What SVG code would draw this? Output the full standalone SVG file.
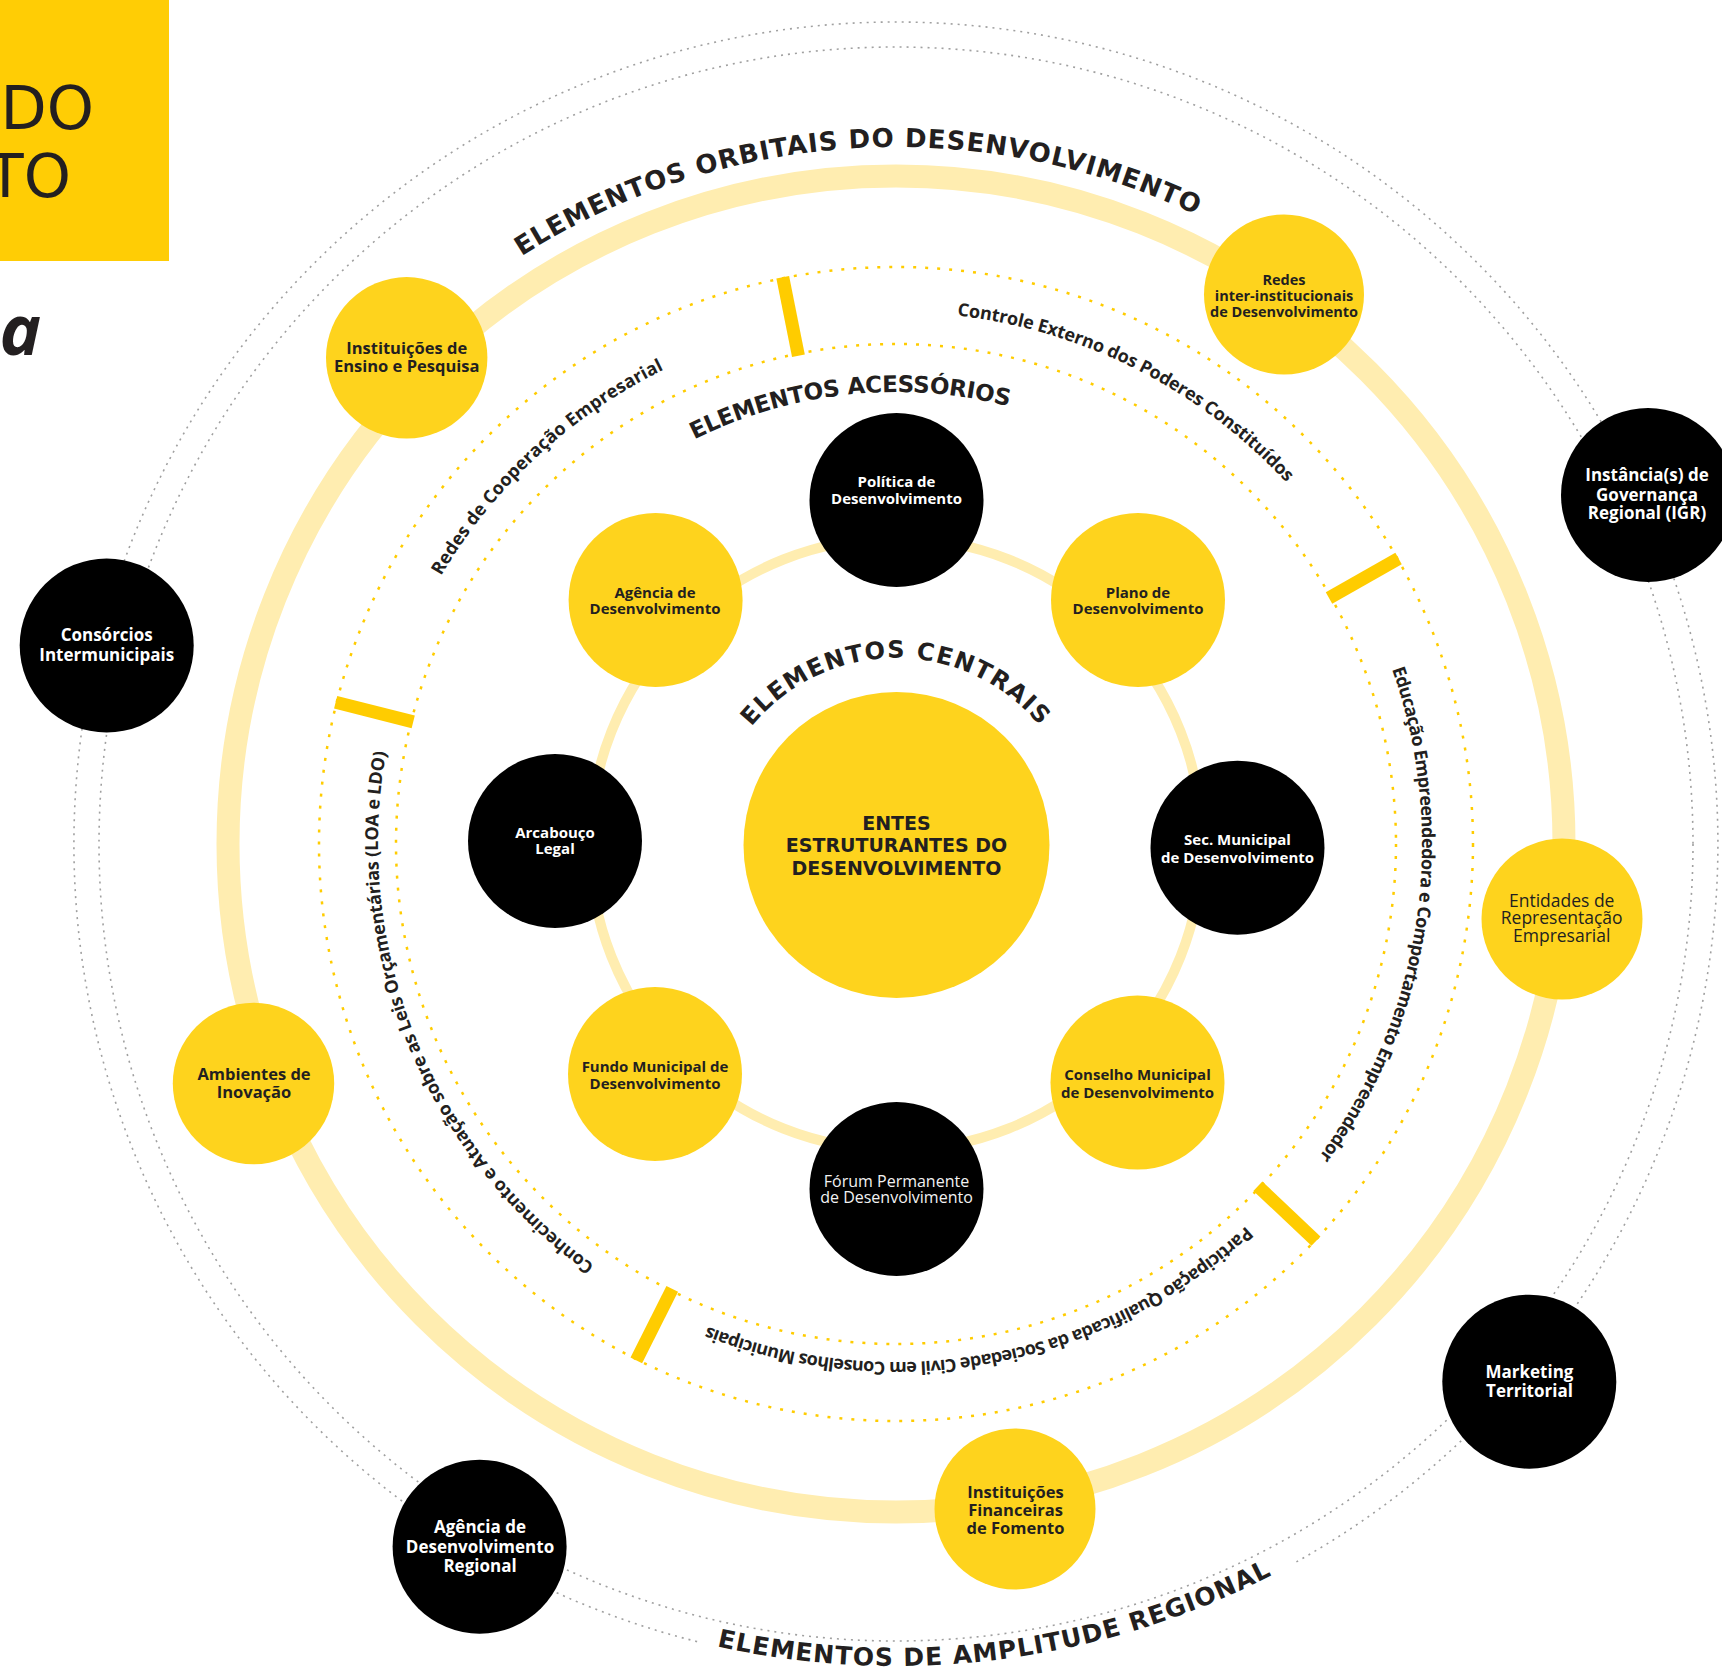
<svg xmlns="http://www.w3.org/2000/svg" width="1722" height="1671" viewBox="0 0 1722 1671">
<style>
.ny{fill:#FED31D}
.nb{fill:#000}
.t{font-family:"Open Sans","Liberation Sans",sans-serif;text-anchor:middle}
.td{fill:#231F20;font-weight:700}
.tdr{fill:#231F20;font-weight:400}
.tw{fill:#fff;font-weight:700}
.twr{fill:#f2f2f2;font-weight:400}
.hd{font-family:"DejaVu Sans",sans-serif;font-weight:700;fill:#231F20}
.arc{font-family:"Open Sans","Liberation Sans",sans-serif;font-weight:700;fill:#231F20;font-size:18px}
.band{fill:none;stroke:#FFEDB0}
.ydot{fill:none;stroke:#FFCC00;stroke-width:2.5;stroke-dasharray:3 9}
.gdot{fill:none;stroke:#A0A0A0;stroke-width:1.6;stroke-dasharray:2 5}
.bar{fill:#FFCC00}
</style>
<defs>
<path id="pOrb" d="M 521.5 256.2 A 697 697 0 0 1 1196.1 214.9"/>
<path id="pAce" d="M 694.3 439.5 A 452 452 0 0 1 1009.2 406.4"/>
<path id="pCen" d="M 751.5 726.9 A 186 186 0 0 1 1039.5 725.7"/>
<path id="pAmp" d="M 716.7 1646.2 A 822 822 0 0 0 1271.7 1575.1"/>
<path id="pRed" d="M 441.1 576.0 A 528 528 0 0 1 664.5 369.4"/>
<path id="pCon" d="M 957.1 315.5 A 532 532 0 0 1 1286.3 482.6"/>
<path id="pEdu" d="M 1392.1 669.3 A 526 526 0 0 1 1318.9 1156.9"/>
<path id="pPar" d="M 1246.0 1225.9 A 518 518 0 0 1 707.8 1326.6"/>
<path id="pCnh" d="M 594.5 1265.2 A 518 518 0 0 1 386.2 752.3"/>
</defs>
<rect x="0" y="0" width="1722" height="1671" fill="#fff"/>

<g id="title">
<rect x="0" y="0" width="169" height="261" fill="#FFCD05"/>
<text x="94" y="129" font-family="DejaVu Sans,sans-serif" font-size="60" fill="#231F20" text-anchor="end">DO</text>
<text x="71" y="197" font-family="DejaVu Sans,sans-serif" font-size="60" fill="#231F20" text-anchor="end">TO</text>
<text x="41" y="355" font-family="Open Sans,sans-serif" font-style="italic" font-weight="700" font-size="70" fill="#231F20" text-anchor="end">a</text>
</g>

<g id="connectors">
<circle class="gdot" cx="896" cy="844" r="797"/>
<path class="gdot" d="M 697.1 1641.6 A 822 822 0 1 1 1294.5 1562.9"/>
<circle class="band" cx="896" cy="844" r="668" stroke-width="23"/>
<circle class="ydot" cx="896" cy="844" r="577"/>
<circle class="ydot" cx="896" cy="844" r="500"/>
<g class="bar">
<rect x="1394" y="837.5" width="80" height="13" transform="rotate(-101.3 896 844)"/>
<rect x="1394" y="837.5" width="80" height="13" transform="rotate(-29.6 896 844)"/>
<rect x="1394" y="837.5" width="80" height="13" transform="rotate(194.2 896 844)"/>
<rect x="1394" y="837.5" width="80" height="13" transform="rotate(43.4 896 844)"/>
<rect x="1394" y="837.5" width="80" height="13" transform="rotate(116.7 896 844)"/>
</g>
<circle class="band" cx="896" cy="844" r="306" stroke-width="10"/>
</g>

<g id="central">
<circle class="ny" cx="896.5" cy="845" r="153"/>
<text class="hd" font-size="19" text-anchor="middle"><tspan x="896.5" y="829.6">ENTES</tspan><tspan x="896.5" y="851.9">ESTRUTURANTES DO</tspan><tspan x="896.5" y="874.6">DESENVOLVIMENTO</tspan></text>
</g>

<g id="n-politica">
<circle class="nb" cx="896.5" cy="500" r="87"/>
<text class="t tw" font-size="15"><tspan x="896.5" y="487.3">Política de</tspan><tspan x="896.5" y="504">Desenvolvimento</tspan></text>
</g>
<g id="n-plano">
<circle class="ny" cx="1138" cy="600" r="87"/>
<text class="t td" font-size="15"><tspan x="1138" y="597.7">Plano de</tspan><tspan x="1138" y="614.3">Desenvolvimento</tspan></text>
</g>
<g id="n-sec">
<circle class="nb" cx="1237.5" cy="847.7" r="87"/>
<text class="t tw" font-size="15"><tspan x="1237.5" y="845">Sec. Municipal</tspan><tspan x="1237.5" y="862.5">de Desenvolvimento</tspan></text>
</g>
<g id="n-conselho">
<circle class="ny" cx="1137.5" cy="1082.6" r="87"/>
<text class="t td" font-size="15"><tspan x="1137.5" y="1080">Conselho Municipal</tspan><tspan x="1137.5" y="1097.5">de Desenvolvimento</tspan></text>
</g>
<g id="n-forum">
<circle class="nb" cx="896.5" cy="1189" r="87"/>
<text class="t twr" font-size="16"><tspan x="896.5" y="1187.3">Fórum Permanente</tspan><tspan x="896.5" y="1203.3">de Desenvolvimento</tspan></text>
</g>
<g id="n-fundo">
<circle class="ny" cx="655" cy="1074" r="87"/>
<text class="t td" font-size="15"><tspan x="655" y="1071.8">Fundo Municipal de</tspan><tspan x="655" y="1088.6">Desenvolvimento</tspan></text>
</g>
<g id="n-arcabouco">
<circle class="nb" cx="555" cy="841" r="87"/>
<text class="t tw" font-size="15"><tspan x="555" y="838">Arcabouço</tspan><tspan x="555" y="854">Legal</tspan></text>
</g>
<g id="n-agencia">
<circle class="ny" cx="655.6" cy="600" r="87"/>
<text class="t td" font-size="15"><tspan x="655" y="597.7">Agência de</tspan><tspan x="655" y="614.3">Desenvolvimento</tspan></text>
</g>

<g id="n-ensino">
<circle class="ny" cx="406.7" cy="357.8" r="80.7"/>
<text class="t td" font-size="16.5"><tspan x="406.7" y="353.7">Instituições de</tspan><tspan x="406.7" y="372.1">Ensino e Pesquisa</tspan></text>
</g>
<g id="n-redes">
<circle class="ny" cx="1284" cy="294.5" r="80"/>
<text class="t td" font-size="14.5"><tspan x="1284" y="284.8">Redes</tspan><tspan x="1284" y="300.8">inter-institucionais</tspan><tspan x="1284" y="316.5">de Desenvolvimento</tspan></text>
</g>
<g id="n-entidades">
<circle class="ny" cx="1562" cy="919" r="80.5"/>
<text class="t tdr" font-size="17.5"><tspan x="1561.7" y="906.8">Entidades de</tspan><tspan x="1561.7" y="924">Representação</tspan><tspan x="1561.7" y="941.5">Empresarial</tspan></text>
</g>
<g id="n-financeiras">
<circle class="ny" cx="1015" cy="1509" r="80.5"/>
<text class="t td" font-size="16.5"><tspan x="1015.5" y="1498.1">Instituições</tspan><tspan x="1015.5" y="1516.1">Financeiras</tspan><tspan x="1015.5" y="1533.7">de Fomento</tspan></text>
</g>
<g id="n-ambientes">
<circle class="ny" cx="253.5" cy="1083.5" r="80.7"/>
<text class="t td" font-size="16.5"><tspan x="254" y="1079.7">Ambientes de</tspan><tspan x="254" y="1098.1">Inovação</tspan></text>
</g>

<g id="n-igr">
<circle class="nb" cx="1648" cy="495" r="87"/>
<text class="t tw" font-size="17"><tspan x="1647" y="480.6">Instância(s) de</tspan><tspan x="1647" y="500.6">Governança</tspan><tspan x="1647" y="518.9">Regional (IGR)</tspan></text>
</g>
<g id="n-consorcios">
<circle class="nb" cx="106.7" cy="645.5" r="87"/>
<text class="t tw" font-size="17"><tspan x="106.7" y="640.6">Consórcios</tspan><tspan x="106.7" y="660.6">Intermunicipais</tspan></text>
</g>
<g id="n-marketing">
<circle class="nb" cx="1529.3" cy="1381.7" r="87"/>
<text class="t tw" font-size="17"><tspan x="1529.5" y="1378.3">Marketing</tspan><tspan x="1529.5" y="1397.3">Territorial</tspan></text>
</g>
<g id="n-agregional">
<circle class="nb" cx="479.6" cy="1546.7" r="87"/>
<text class="t tw" font-size="17"><tspan x="480" y="1532.6">Agência de</tspan><tspan x="480" y="1552.6">Desenvolvimento</tspan><tspan x="480" y="1571.6">Regional</tspan></text>
</g>

<g id="headings">
<text class="hd" font-size="26"><textPath href="#pOrb" textLength="705" lengthAdjust="spacing">ELEMENTOS ORBITAIS DO DESENVOLVIMENTO</textPath></text>
<text class="hd" font-size="23"><textPath href="#pAce" textLength="323" lengthAdjust="spacing">ELEMENTOS ACESSÓRIOS</textPath></text>
<text class="hd" font-size="24"><textPath href="#pCen" textLength="329" lengthAdjust="spacing">ELEMENTOS CENTRAIS</textPath></text>
<text class="hd" font-size="25"><textPath href="#pAmp" textLength="571" lengthAdjust="spacing">ELEMENTOS DE AMPLITUDE REGIONAL</textPath></text>
</g>

<g id="ring-labels">
<text class="arc"><textPath href="#pRed" textLength="308" lengthAdjust="spacing">Redes de Cooperação Empresarial</textPath></text>
<text class="arc"><textPath href="#pCon" textLength="377" lengthAdjust="spacing">Controle Externo dos Poderes Constituídos</textPath></text>
<text class="arc"><textPath href="#pEdu" textLength="513" lengthAdjust="spacing">Educação Empreendedora e Comportamento Empreendedor</textPath></text>
<text class="arc"><textPath href="#pPar" textLength="577" lengthAdjust="spacing">Participação Qualificada da Sociedade Civil em Conselhos Municipais</textPath></text>
<text class="arc"><textPath href="#pCnh" textLength="584" lengthAdjust="spacing">Conhecimento e Atuação sobre as Leis Orçamentárias (LOA e LDO)</textPath></text>
</g>
</svg>
